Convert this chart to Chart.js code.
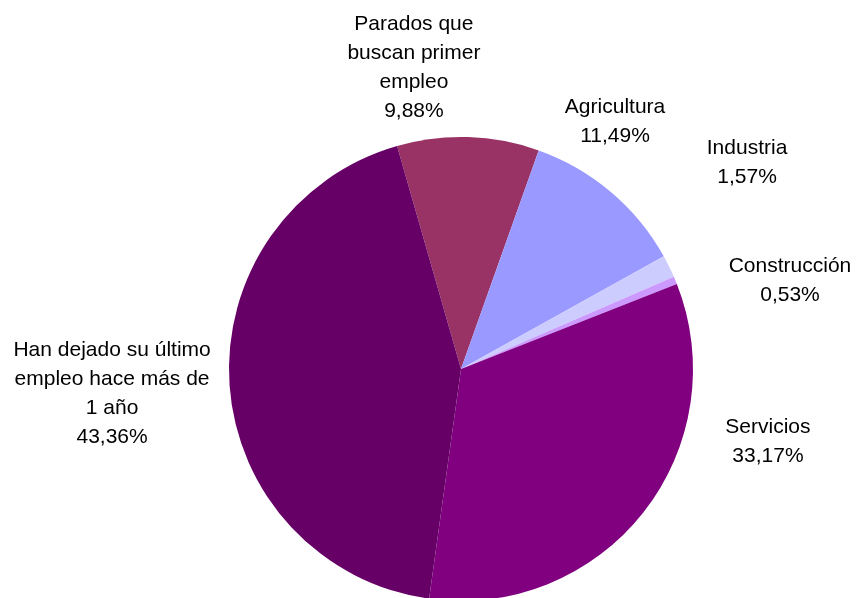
<!DOCTYPE html>
<html><head><meta charset="utf-8">
<script src="https://cdn.jsdelivr.net/npm/chart.js@4/dist/chart.umd.min.js"></script>
<style>html,body{margin:0;padding:0;background:#fff;overflow:hidden;width:856px;height:598px}#wrap{width:856px;height:740px;position:relative}</style>
</head><body><div id="wrap"><canvas id="c"></canvas></div>
<script>
const categories = ["Parados que buscan primer empleo","Agricultura","Industria","Construcción","Servicios","Han dejado su último empleo hace más de 1 año"];
const labelLines = [["Parados que","buscan primer","empleo"],["Agricultura"],["Industria"],["Construcción"],["Servicios"],["Han dejado su último","empleo hace más de","1 año"]];
const values = [9.88, 11.49, 1.57, 0.53, 33.17, 43.36];
const colors = ["#993366","#9999FF","#CCCCFF","#CC99FF","#800080","#660066"];

// label anchors relative to pie centre, in units of radius
const labelOffsets = [[-0.203,-1.30],[0.664,-1.065],[1.233,-0.888],[1.418,-0.38],[1.323,0.315],[-1.504,0.108]];

const labelPlugin = {
  id: 'outLabels',
  afterDatasetsDraw(chart) {
    const ctx = chart.ctx;
    const meta = chart.getDatasetMeta(0);
    ctx.save();
    ctx.font = '21px "Liberation Sans", Arial, sans-serif';
    ctx.fillStyle = '#000';
    ctx.textAlign = 'center';
    ctx.textBaseline = 'middle';
    const lh = 29;
    meta.data.forEach((arc, i) => {
      const r = arc.outerRadius;
      const cx = arc.x + labelOffsets[i][0] * r;
      const cy = arc.y + labelOffsets[i][1] * r;
      const pct = values[i].toFixed(2).replace('.', ',') + '%';
      const lines = labelLines[i].concat([pct]);
      const y0 = cy - (lines.length - 1) * lh / 2;
      lines.forEach((t, k) => ctx.fillText(t, cx, y0 + k * lh));
    });
    ctx.restore();
  }
};

new Chart(document.getElementById('c'), {
  type: 'pie',
  data: { labels: categories, datasets: [{ data: values, backgroundColor: colors, borderWidth: 0 }] },
  options: {
    responsive: true, maintainAspectRatio: false, animation: false,
    rotation: -16,
    layout: { padding: { top: 137, bottom: 139, left: 229, right: 163 } },
    plugins: { legend: { display: false }, tooltip: { enabled: false } }
  },
  plugins: [labelPlugin]
});
</script></body></html>
